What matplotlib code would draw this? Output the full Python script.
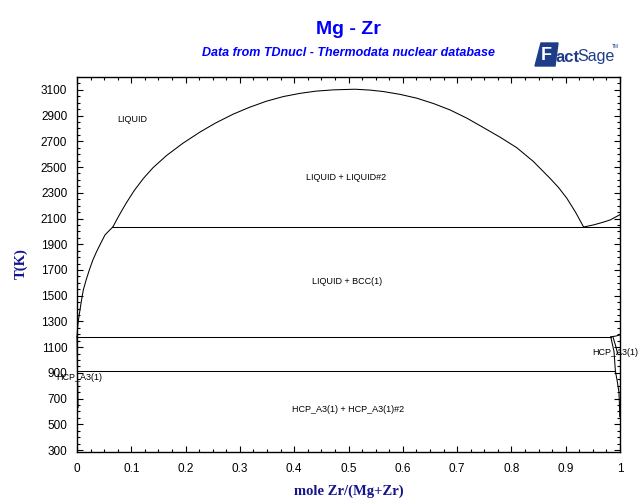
import matplotlib
matplotlib.use("Agg")
import matplotlib.pyplot as plt
from matplotlib.patches import Polygon
from matplotlib.ticker import MultipleLocator

# ---- data ----
liq_mg_x = [0.0, 0.0012, 0.003, 0.0055, 0.0085, 0.0116, 0.017, 0.0227, 0.029,
            0.036, 0.044, 0.0515, 0.059, 0.066]
liq_mg_T = [1180, 1259, 1320, 1389, 1470, 1544, 1625, 1700, 1775,
            1842, 1910, 1972, 2005, 2034]

dome_x = [0.066, 0.075, 0.083, 0.0914, 0.105, 0.122, 0.14, 0.165, 0.195, 0.2265,
          0.255, 0.288, 0.318, 0.349, 0.38, 0.411, 0.44, 0.472, 0.512, 0.54,
          0.564, 0.595, 0.626, 0.657, 0.687, 0.718, 0.748, 0.78, 0.81, 0.84,
          0.871, 0.887, 0.902, 0.918, 0.933]
dome_T = [2034, 2105, 2165, 2225, 2315, 2410, 2495, 2590, 2685, 2772,
          2842, 2912, 2965, 3012, 3048, 3073, 3090, 3100, 3105, 3098,
          3087, 3065, 3035, 2993, 2944, 2880, 2808, 2730, 2650, 2545,
          2413, 2340, 2258, 2150, 2034]

liq_zr_x = [0.933, 0.951, 0.968, 0.982, 1.0]
liq_zr_T = [2034, 2050, 2070, 2089, 2130]

mono_x = [0.066, 1.0]
mono_T = [2034, 2034]
bcc_hcp_x = [0.0, 0.983]
bcc_hcp_T = [1180, 1180]
eut_x = [0.0, 0.991]
eut_T = [914, 914]

mg_solv_x = [0.0, 0.0008, 0.0015, 0.002]
mg_solv_T = [1180, 914, 760, 630]

zr_bcc_x = [0.983, 0.992, 1.0]
zr_bcc_T = [1180, 1186, 1195]
zr_hcp_x = [0.983, 0.989, 0.9915, 0.9945, 0.998, 0.999, 0.9995]
zr_hcp_T = [1180, 1065, 914, 845, 753, 650, 560]
zr_hcp2_x = [0.987, 0.992, 0.9955]
zr_hcp2_T = [1180, 1110, 1050]

labels = ["LIQUID", "LIQUID + LIQUID#2", "LIQUID + BCC(1)", "HCP_A3(1)",
          "HCP_A3(1)", "HCP_A3(1) + HCP_A3(1)#2"]
label_x = [0.101, 0.495, 0.498, 0.991, 0.004, 0.50]
label_T = [2869, 2416, 1614, 1062, 868, 619]

xticks = [0, 0.1, 0.2, 0.3, 0.4, 0.5, 0.6, 0.7, 0.8, 0.9, 1]
xticklabels = ["0", "0.1", "0.2", "0.3", "0.4", "0.5", "0.6", "0.7", "0.8", "0.9", "1"]
yticks = list(range(300, 3101, 200))

# ---- figure ----
W, H = 640, 504
fig = plt.figure(figsize=(6.4, 5.04), dpi=100)
ax = fig.add_axes([77 / W, 1 - 452 / H, (620 - 77) / W, (452 - 77) / H])

lw = 0.75
for xs, ts in [(liq_mg_x, liq_mg_T), (dome_x, dome_T), (liq_zr_x, liq_zr_T),
               (mono_x, mono_T), (bcc_hcp_x, bcc_hcp_T), (eut_x, eut_T),
               (mg_solv_x, mg_solv_T), (zr_bcc_x, zr_bcc_T), (zr_hcp_x, zr_hcp_T),
               (zr_hcp2_x, zr_hcp2_T)]:
    ax.plot(xs, ts, color="black", lw=lw, clip_on=False)

for s, x, t in zip(labels, label_x, label_T):
    ax.text(x, t, s, fontsize=6.5, family="Liberation Sans", ha="center", va="center")

ax.set_xlim(0, 1)
ax.set_ylim(285, 3200)
ax.set_xticks(xticks)
ax.set_xticklabels(xticklabels)
ax.set_yticks(yticks)
ax.xaxis.set_minor_locator(MultipleLocator(0.025))
ax.yaxis.set_minor_locator(MultipleLocator(50))
ax.tick_params(which="both", direction="in", top=True, right=True, width=0.8)
ax.tick_params(which="major", length=4)
ax.tick_params(which="minor", length=2)
ax.tick_params(axis="x", which="major", pad=8)
ax.tick_params(axis="y", which="major", pad=7)
for lab in ax.get_xticklabels() + ax.get_yticklabels():
    lab.set_fontfamily("Liberation Sans")
    lab.set_fontsize(8.5)
for sp in ax.spines.values():
    sp.set_linewidth(1.0)

navy = "#14148c"
fig.text(348.5 / W, 1 - 491 / H, "mole Zr/(Mg+Zr)", ha="center", va="center",
         family="Liberation Serif", fontweight="bold", fontsize=10.5, color=navy)
fig.text(21 / W, 1 - 264 / H, "T(K)", ha="center", va="center", rotation=90,
         family="Liberation Serif", fontweight="bold", fontsize=10.5, color=navy)

fig.text(348 / W, 1 - 30 / H, "Mg - Zr", ha="center", va="center",
         family="Liberation Sans", fontweight="bold", fontsize=14, color="#0000ff")
fig.text(348 / W, 1 - 53 / H, "Data from TDnucl - Thermodata nuclear database",
         ha="center", va="center", family="Liberation Sans", fontweight="bold",
         fontstyle="italic", fontsize=9, color="#0000ff")

# FactSage logo
logo = "#1f3c88"
poly = Polygon([(541 / W, 1 - 43 / H), (558 / W, 1 - 43 / H), (555 / W, 1 - 66 / H),
                (535 / W, 1 - 66 / H)], closed=True, transform=fig.transFigure,
               facecolor=logo, edgecolor=logo)
fig.patches.append(poly)
fig.text(541 / W, 1 - 55 / H, "F", ha="left", va="center", family="Liberation Sans",
         fontweight="bold", fontsize=13, color="white")
fig.text(555 / W, 1 - 57 / H, "act", ha="left", va="center", family="Liberation Sans",
         fontweight="bold", fontsize=12, color=logo)
fig.text(577 / W, 1 - 56 / H, "Sage", ha="left", va="center", family="Liberation Sans",
         fontsize=11.5, color=logo)
fig.text(612 / W, 1 - 47 / H, "TM", ha="left", va="center", family="Liberation Sans",
         fontsize=3.5, color=logo)

fig.savefig("out.png", dpi=100)
